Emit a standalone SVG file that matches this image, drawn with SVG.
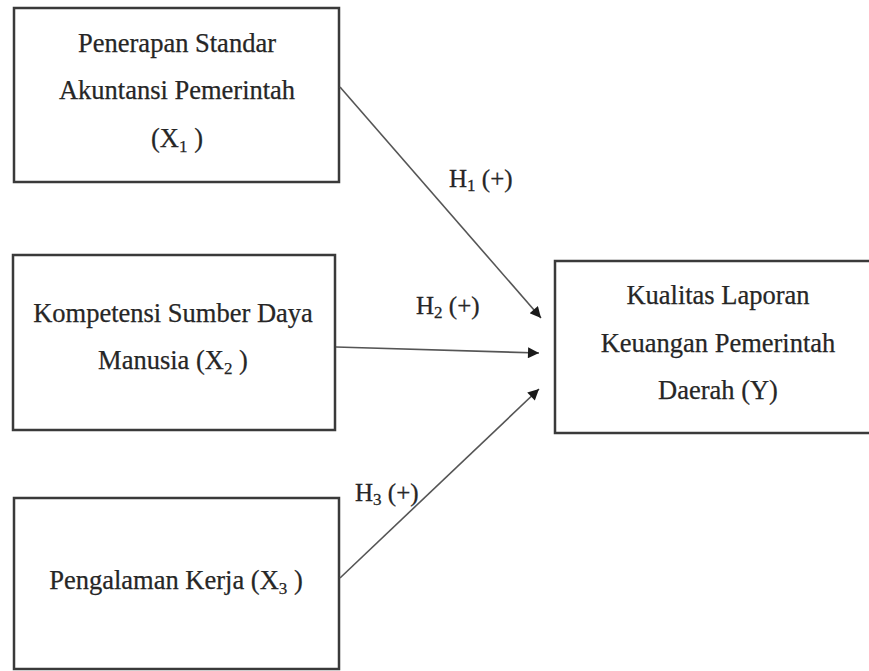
<svg xmlns="http://www.w3.org/2000/svg" width="869" height="671" viewBox="0 0 869 671">
<style>
.box{fill:#fff;stroke:#3a3a3a;stroke-width:2.5}
.t{font-family:"Liberation Serif","Times New Roman",serif;font-size:26.5px;fill:#262626;text-anchor:middle;stroke:#262626;stroke-width:0.25}
.h{font-family:"Liberation Serif","Times New Roman",serif;font-size:25px;fill:#262626;stroke:#262626;stroke-width:0.3}
.sub{font-size:17px}
.c{stroke:#555;stroke-width:1.6;fill:none;marker-end:url(#ah)}
</style>
<defs>
<marker id="ah" viewBox="0 0 10 10" refX="10" refY="5" markerWidth="13" markerHeight="11" markerUnits="userSpaceOnUse" orient="auto">
<path d="M0,0 L10,5 L0,10 z" fill="#1a1a1a"/>
</marker>
</defs>
<rect width="869" height="671" fill="#fff"/>
<g id="x1">
<rect class="box" x="14" y="8" width="325" height="174"/>
<text class="t" x="177" y="52">Penerapan Standar</text>
<text class="t" x="177" y="99">Akuntansi Pemerintah</text>
<text class="t" x="177" y="147">(X<tspan class="sub" dy="5">1</tspan><tspan dy="-5"> )</tspan></text>
</g>
<g id="x2">
<rect class="box" x="13" y="255" width="322" height="175"/>
<text class="t" x="173" y="322">Kompetensi Sumber Daya</text>
<text class="t" x="173" y="369">Manusia (X<tspan class="sub" dy="5">2</tspan><tspan dy="-5"> )</tspan></text>
</g>
<g id="x3">
<rect class="box" x="14" y="498" width="325" height="171"/>
<text class="t" x="176" y="589">Pengalaman Kerja (X<tspan class="sub" dy="5">3</tspan><tspan dy="-5"> )</tspan></text>
</g>
<g id="y">
<rect class="box" x="555" y="261" width="320" height="172"/>
<text class="t" x="718" y="304">Kualitas Laporan</text>
<text class="t" x="718" y="352">Keuangan Pemerintah</text>
<text class="t" x="718" y="399">Daerah (Y)</text>
</g>
<g id="connectors">
<line class="c" x1="340" y1="87" x2="541" y2="318"/>
<line class="c" x1="336" y1="347" x2="539" y2="353"/>
<line class="c" x1="340" y1="578" x2="539" y2="389"/>
<text class="h" x="449" y="187">H<tspan class="sub" dy="4">1</tspan><tspan dy="-4"> (+)</tspan></text>
<text class="h" x="416" y="314">H<tspan class="sub" dy="4">2</tspan><tspan dy="-4"> (+)</tspan></text>
<text class="h" x="355" y="501">H<tspan class="sub" dy="4">3</tspan><tspan dy="-4"> (+)</tspan></text>
</g>
</svg>
